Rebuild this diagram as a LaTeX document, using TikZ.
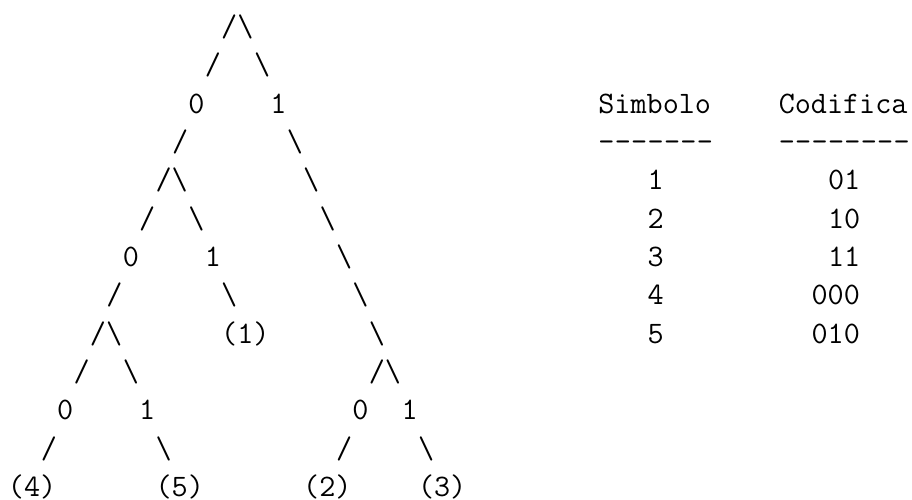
\documentclass[tikz,border=0pt]{standalone}
\tikzset{tok/.style={anchor=base west, inner sep=0pt, outer sep=0pt, font=\fontsize{15.62}{18}\selectfont\ttfamily}}
\newcommand\mytok[4]{\node[tok] (#1) at ({8+16.4*(#2)},{113+38.35*((#3)-3)}) {#4};}
\newcommand\bs{\textbackslash}
\begin{document}
\begin{tikzpicture}[x=0.5pt,y=-0.5pt]
\useasboundingbox (0,0) rectangle (912,499);
% tree
\mytok{a1}{13}{1}{/\bs}
\mytok{a2}{12}{2}{/}
\mytok{b2}{15}{2}{\bs}
\mytok{a3}{11}{3}{0}
\mytok{b3}{16}{3}{1}
\mytok{a4}{10}{4}{/}
\mytok{b4}{17}{4}{\bs}
\mytok{a5}{9}{5}{/\bs}
\mytok{b5}{18}{5}{\bs}
\mytok{a6}{8}{6}{/}
\mytok{b6}{11}{6}{\bs}
\mytok{c6}{19}{6}{\bs}
\mytok{a7}{7}{7}{0}
\mytok{b7}{12}{7}{1}
\mytok{c7}{20}{7}{\bs}
\mytok{a8}{6}{8}{/}
\mytok{b8}{13}{8}{\bs}
\mytok{c8}{21}{8}{\bs}
\mytok{a9}{5}{9}{/\bs}
\mytok{b9}{13}{9}{(1)}
\mytok{c9}{22}{9}{\bs}
\mytok{a10}{4}{10}{/}
\mytok{b10}{7}{10}{\bs}
\mytok{c10}{22}{10}{/\bs}
\mytok{a11}{3}{11}{0}
\mytok{b11}{8}{11}{1}
\mytok{c11}{21}{11}{0}
\mytok{d11}{24}{11}{1}
\mytok{a12}{2}{12}{/}
\mytok{b12}{9}{12}{\bs}
\mytok{c12}{20}{12}{/}
\mytok{d12}{25}{12}{\bs}
\mytok{a13}{0}{13}{(4)}
\mytok{b13}{9}{13}{(5)}
\mytok{c13}{18}{13}{(2)}
\mytok{d13}{25}{13}{(3)}
% table
\mytok{hs}{36}{3}{Simbolo}
\mytok{hc}{47}{3}{Codifica}
\foreach \c in {36,...,42} {\mytok{ds\c}{\c}{4}{-}}
\foreach \c in {47,...,54} {\mytok{dc\c}{\c}{4}{-}}
\mytok{s1}{39}{5}{1}
\mytok{k1}{50}{5}{01}
\mytok{s2}{39}{6}{2}
\mytok{k2}{50}{6}{10}
\mytok{s3}{39}{7}{3}
\mytok{k3}{50}{7}{11}
\mytok{s4}{39}{8}{4}
\mytok{k4}{49}{8}{000}
\mytok{s5}{39}{9}{5}
\mytok{k5}{49}{9}{010}
\end{tikzpicture}
\end{document}
